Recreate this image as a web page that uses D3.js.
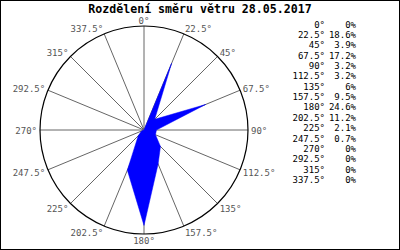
<!DOCTYPE html>
<html>
<head>
<meta charset="utf-8">
<script src="https://cdn.jsdelivr.net/npm/d3@7"></script>
<style>
  body { margin: 0; background: #fff; }
  text { font-family: "DejaVu Sans Mono", monospace; }
</style>
</head>
<body>
<div id="chart"></div>
<script>
// wind direction distribution data
const title = "Rozdělení směru větru 28.05.2017";
const directions = [0, 22.5, 45, 67.5, 90, 112.5, 135, 157.5, 180, 202.5, 225, 247.5, 270, 292.5, 315, 337.5];
const percents = [0, 18.6, 3.9, 17.2, 3.2, 3.2, 6, 9.5, 24.6, 11.2, 2.1, 0.7, 0, 0, 0, 0];
const dirLabels = directions.map(d => d + "°");
const pctLabels = percents.map(p => p + "%");

const width = 400;
const height = 250;
const cx = 144, cy = 130, radius = 104;

const svg = d3.select("#chart")
  .append("svg")
  .attr("width", width)
  .attr("height", height);

// frame
svg.append("rect")
  .attr("x", 0.5).attr("y", 0.5)
  .attr("width", width - 1).attr("height", height - 1)
  .attr("fill", "#fff")
  .attr("stroke", "#000");

// title
svg.append("text")
  .attr("x", 200).attr("y", 13)
  .attr("text-anchor", "middle")
  .attr("font-size", "11.6px")
  .attr("font-weight", "bold")
  .attr("fill", "#000")
  .text(title);

// scales
const rScale = d3.scaleLinear().domain([0, 26.8]).range([0, radius]);
const aScale = d3.scaleLinear().domain([0, 360]).range([0, 2 * Math.PI]);

const g = svg.append("g").attr("transform", `translate(${cx},${cy})`);

// spokes
g.selectAll(".spoke")
  .data(directions)
  .enter()
  .append("line")
  .attr("class", "spoke")
  .attr("x1", 0).attr("y1", 0)
  .attr("x2", d => radius * Math.sin(aScale(d)))
  .attr("y2", d => -radius * Math.cos(aScale(d)))
  .attr("stroke", "#666")
  .attr("stroke-width", 1);

// outer circle
g.append("circle")
  .attr("r", radius)
  .attr("fill", "none")
  .attr("stroke", "#000")
  .attr("stroke-width", 1.2);

// rose polygon
const rose = d3.lineRadial()
  .angle((d, i) => aScale(directions[i]))
  .radius(d => rScale(d))
  .curve(d3.curveLinearClosed);

g.append("path")
  .attr("d", rose(percents))
  .attr("fill", "#0000ff")
  .attr("stroke", "#0000ff")
  .attr("stroke-width", 0.5);

// direction labels round the circle
g.selectAll(".dirlabel")
  .data(directions)
  .enter()
  .append("text")
  .attr("class", "dirlabel")
  .attr("x", d => radius * Math.sin(aScale(d)) + Math.sin(aScale(d)) * 3)
  .attr("y", d => -radius * Math.cos(aScale(d)) - Math.cos(aScale(d)) * 6 + 1.5)
  .attr("text-anchor", d => {
    const s = Math.sin(aScale(d));
    return s > 0.1 ? "start" : (s < -0.1 ? "end" : "middle");
  })
  .attr("dominant-baseline", "middle")
  .attr("font-size", "9px")
  .attr("fill", "#555")
  .text((d, i) => dirLabels[i]);

// table on the right
const rowY = d3.scaleLinear().domain([0, directions.length - 1]).range([25, 180.5]);

svg.selectAll(".tdir")
  .data(dirLabels)
  .enter()
  .append("text")
  .attr("class", "tdir")
  .attr("x", 325)
  .attr("y", (d, i) => rowY(i))
  .attr("text-anchor", "end")
  .attr("dominant-baseline", "middle")
  .attr("font-size", "9px")
  .attr("fill", "#000")
  .text(d => d);

svg.selectAll(".tpct")
  .data(pctLabels)
  .enter()
  .append("text")
  .attr("class", "tpct")
  .attr("x", 356)
  .attr("y", (d, i) => rowY(i))
  .attr("text-anchor", "end")
  .attr("dominant-baseline", "middle")
  .attr("font-size", "9px")
  .attr("fill", "#000")
  .text(d => d);
</script>
</body>
</html>
